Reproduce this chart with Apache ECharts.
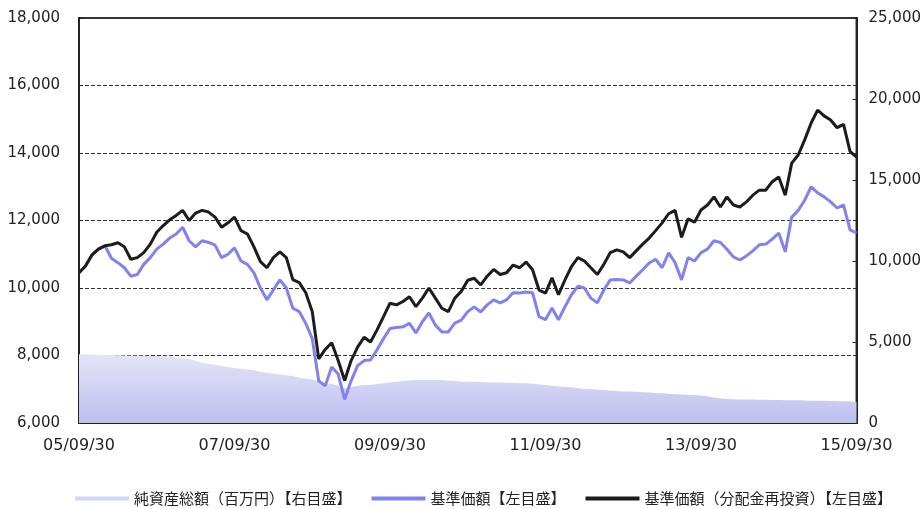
<!DOCTYPE html>
<html>
<head>
<meta charset="utf-8">
<script src="https://cdn.jsdelivr.net/npm/echarts@6/dist/echarts.min.js"></script>
<style>
  html, body { margin: 0; padding: 0; background: #ffffff; }
  #chart { width: 924px; height: 509px; }
</style>
</head>
<body>
<div id="chart"></div>
<script>
// Month-end dates, 2005/09/30 .. 2015/09/30
const START_YEAR = 2005, START_MONTH = 9, MONTHS = 121;
const categories = [];
for (let i = 0; i < MONTHS; i++) {
  const m0 = START_MONTH - 1 + i;
  const y = START_YEAR + Math.floor(m0 / 12);
  const m = (m0 % 12) + 1;
  const d = new Date(Date.UTC(y, m, 0)).getUTCDate();
  categories.push(String(y % 100).padStart(2, '0') + '/' + String(m).padStart(2, '0') + '/' + String(d).padStart(2, '0'));
}

// 基準価額（分配金再投資）
const navReinvested = [
  10450, 10650, 10980, 11150, 11250, 11280, 11340, 11220, 10850, 10900,
  11050, 11300, 11650, 11850, 12020, 12150, 12300, 12000, 12220, 12300,
  12250, 12100, 11800, 11930, 12100, 11700, 11600, 11220, 10780, 10600,
  10900, 11070, 10900, 10250, 10160, 9860, 9300, 7900, 8180, 8380,
  7850, 7260, 7850, 8250, 8540, 8400, 8760, 9150, 9550, 9500,
  9600, 9740, 9450, 9700, 10000, 9700, 9400, 9300, 9700, 9900,
  10230, 10290, 10090, 10350, 10550, 10400, 10450, 10680, 10600, 10770,
  10540, 9940, 9850, 10300, 9800, 10240, 10630, 10900, 10800, 10600,
  10400, 10700, 11050, 11130, 11070, 10900, 11100, 11300, 11480, 11700,
  11930, 12200, 12300, 11500, 12050, 11950, 12310, 12460, 12700, 12400,
  12700, 12460, 12400, 12550, 12750, 12900, 12900, 13150, 13290, 12750,
  13700, 13940, 14390, 14890, 15270, 15100, 14980, 14750, 14850, 14050,
  13880
];

// 基準価額
const nav = [
  10450, 10650, 10980, 11150, 11250, 10880, 10750, 10600, 10350, 10400,
  10700, 10900, 11150, 11300, 11480, 11600, 11800, 11400, 11220, 11400,
  11350, 11270, 10900, 11000, 11190, 10800, 10700, 10450, 10000, 9650,
  9940, 10240, 10000, 9400, 9300, 8950, 8500, 7250, 7100, 7660,
  7450, 6700, 7250, 7700, 7850, 7870, 8170, 8500, 8800, 8830,
  8850, 8950, 8670, 9000, 9260, 8900, 8700, 8700, 8960, 9050,
  9300, 9440, 9290, 9500, 9650, 9560, 9650, 9860, 9850, 9880,
  9860, 9150, 9060, 9410, 9060, 9440, 9800, 10050, 10000, 9700,
  9560, 9940, 10240, 10250, 10240, 10150, 10350, 10540, 10740, 10850,
  10600, 11040, 10750, 10240, 10900, 10800, 11050, 11150, 11400, 11350,
  11150, 10920, 10830, 10950, 11100, 11280, 11300, 11450, 11630, 11070,
  12100, 12300, 12600, 13000, 12820, 12700, 12550, 12370, 12460, 11720,
  11630
];

// 純資産総額（百万円）
const netAssets = [
  4250, 4250, 4230, 4220, 4200, 4200, 4180, 4170, 4150, 4150,
  4150, 4140, 4130, 4120, 4100, 4050, 4000, 3950, 3850, 3700,
  3650, 3600, 3520, 3450, 3400, 3350, 3300, 3250, 3150, 3100,
  3050, 3000, 2950, 2900, 2800, 2750, 2700, 2550, 2450, 2400,
  2300, 2150, 2200, 2300, 2350, 2350, 2400, 2450, 2500, 2550,
  2600, 2620, 2650, 2650, 2650, 2650, 2650, 2620, 2600, 2550,
  2550, 2550, 2530, 2520, 2500, 2500, 2480, 2470, 2450, 2450,
  2430, 2380, 2350, 2300, 2250, 2230, 2200, 2150, 2100, 2080,
  2050, 2030, 2000, 1980, 1950, 1950, 1930, 1900, 1880, 1850,
  1830, 1800, 1780, 1760, 1740, 1720, 1700, 1650, 1580, 1520,
  1480, 1460, 1450, 1450, 1450, 1440, 1430, 1420, 1420, 1410,
  1400, 1400, 1390, 1380, 1380, 1370, 1360, 1350, 1340, 1320,
  1300
];

const seriesNames = [
  '純資産総額（百万円）【右目盛】',
  '基準価額【左目盛】',
  '基準価額（分配金再投資）【左目盛】'
];

const AXIS_FONT = 'DejaVu Sans';
const TEXT = '#222222';
const areaTop = '#e4e4f8';
const areaBottom = '#bebef0';
const blue = '#8282ee';
const black = '#1c1c1c';

const chart = echarts.init(document.getElementById('chart'), null, { renderer: 'canvas' });

chart.setOption({
  animation: false,
  backgroundColor: '#ffffff',
  grid: {
    left: 79, right: 66, top: 18, bottom: 86,
    show: true, borderColor: '#333333', borderWidth: 2,
    backgroundColor: 'transparent'
  },
  legend: {
    top: 486,
    left: 70,
    itemWidth: 54,
    itemHeight: 4,
    itemGap: 20,
    textStyle: { fontFamily: 'Noto Sans CJK JP', fontSize: 15, color: TEXT },
    data: [
      { name: seriesNames[0], icon: 'rect', itemStyle: { color: '#d4d4f4' } },
      { name: seriesNames[1], icon: 'rect', itemStyle: { color: blue } },
      { name: seriesNames[2], icon: 'rect', itemStyle: { color: black } }
    ]
  },
  xAxis: {
    type: 'category',
    data: categories,
    boundaryGap: false,
    axisLine: { lineStyle: { color: '#222222', width: 2 } },
    axisTick: { inside: true, interval: 23, length: 4, lineStyle: { color: '#222222' } },
    axisLabel: {
      interval: 23, margin: 15,
      fontFamily: AXIS_FONT, fontSize: 16, color: TEXT
    },
    splitLine: { show: false }
  },
  yAxis: [
    {
      type: 'value',
      min: 6000, max: 18000, interval: 2000,
      axisLine: { show: true, lineStyle: { color: '#222222', width: 2 } },
      axisTick: { show: true, inside: true, length: 4, lineStyle: { color: '#222222' } },
      axisLabel: {
        margin: 19, fontFamily: AXIS_FONT, fontSize: 15, color: TEXT,
        formatter: v => v.toLocaleString('en-US')
      },
      splitLine: { show: true, lineStyle: { color: '#333333', width: 1, type: [4, 2] } }
    },
    {
      type: 'value',
      position: 'right',
      min: 0, max: 25000, interval: 5000,
      axisLine: { show: true, lineStyle: { color: '#222222', width: 2 } },
      axisTick: { show: true, inside: true, length: 4, lineStyle: { color: '#222222' } },
      axisLabel: {
        margin: 12, fontFamily: AXIS_FONT, fontSize: 15, color: TEXT,
        formatter: v => v.toLocaleString('en-US')
      },
      splitLine: { show: false }
    }
  ],
  series: [
    {
      name: seriesNames[0],
      type: 'line',
      yAxisIndex: 1,
      data: netAssets,
      symbol: 'none',
      lineStyle: { width: 0 },
      itemStyle: { color: '#d4d4f4' },
      areaStyle: {
        opacity: 1,
        color: new echarts.graphic.LinearGradient(0, 0, 0, 1, [
          { offset: 0, color: areaTop },
          { offset: 1, color: areaBottom }
        ])
      },
      z: 2
    },
    {
      name: seriesNames[1],
      type: 'line',
      yAxisIndex: 0,
      data: nav,
      symbol: 'none',
      lineStyle: { width: 3, color: blue },
      itemStyle: { color: blue },
      z: 3
    },
    {
      name: seriesNames[2],
      type: 'line',
      yAxisIndex: 0,
      data: navReinvested,
      symbol: 'none',
      lineStyle: { width: 3, color: black },
      itemStyle: { color: black },
      z: 4
    }
  ]
});
</script>
</body>
</html>
